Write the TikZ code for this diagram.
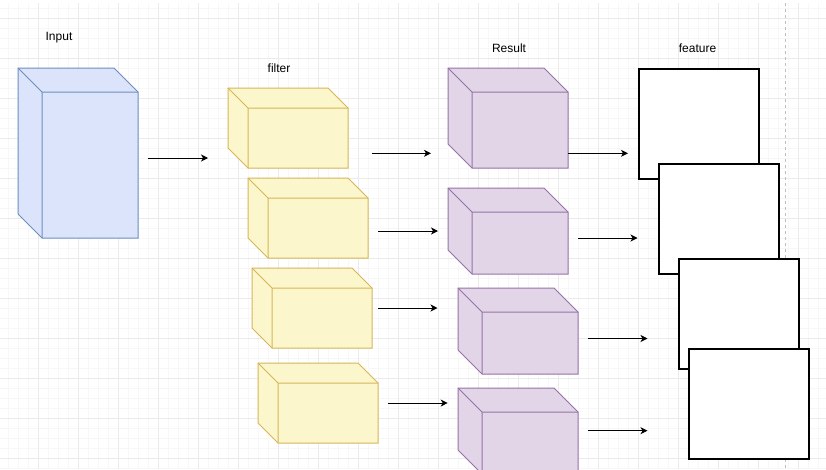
\documentclass[tikz,border=0pt]{standalone}
\usepackage{fontspec}
\setmainfont{Liberation Sans}
\usetikzlibrary{arrows.meta}
\definecolor{bluefill}{HTML}{DCE4FC}
\definecolor{bluestroke}{HTML}{6C8EBF}
\definecolor{yelfill}{HTML}{FCF6CD}
\definecolor{yelstroke}{HTML}{D6B656}
\definecolor{purfill}{HTML}{E1D5E7}
\definecolor{purstroke}{HTML}{9673A6}
\definecolor{gridmajor}{HTML}{EBEBEB}
\definecolor{gridminor}{HTML}{F7F7F7}
\tikzset{
  bluecube/.style={fill=bluefill, draw=bluestroke},
  yelcube/.style={fill=yelfill, draw=yelstroke},
  purcube/.style={fill=purfill, draw=purstroke},
  featbox/.style={draw=black, fill=white, line width=2pt, inner sep=0pt,
    minimum width=120pt, minimum height=110pt, anchor=north west},
  lbl/.style={font=\fontsize{12}{14}\selectfont, inner sep=0pt},
  conn/.style={line width=1pt, -{Stealth[length=7pt,width=7pt,inset=2pt]}},
}
% #1 name, #2 x, #3 y, #4 w, #5 h, #6 depth, #7 style
\newcommand{\drawcube}[7]{%
  \filldraw[#7, line width=1pt, line join=miter]
    (#2,#3) -- ++(#4-#6,0) -- ++(#6,#6) -- ++(0,#5-#6) -- ++(-#4+#6,0) -- ++(-#6,-#6) -- cycle;
  \draw[#7, fill=none, line width=1pt]
    (#2,#3) -- ++(#6,#6) -- ++(#4-#6,0)
    (#2+#6,#3+#6) -- ++(0,#5-#6);
  \node[inner sep=0pt, minimum width=#4pt, minimum height=#5pt, anchor=north west] (#1) at (#2,#3) {};
}
\begin{document}
\begin{tikzpicture}[x=1pt,y=-1pt]
\useasboundingbox (0,0) rectangle (826,469);
\clip (0,0) rectangle (826,469);
\fill[white] (0,0) rectangle (826,469);
% grid
\foreach \x in {8,18,...,826} \draw[gridminor, line width=0.7pt] (\x,3) -- (\x,469);
\foreach \y in {8,18,...,469} \draw[gridminor, line width=0.7pt] (0,\y) -- (826,\y);
\foreach \x in {38,78,...,826} \draw[gridmajor, line width=0.7pt] (\x,3) -- (\x,469);
\foreach \y in {18,58,...,469} \draw[gridmajor, line width=0.7pt] (0,\y) -- (826,\y);
\draw[gray!50, dashed, line width=0.7pt] (785.7,3) -- (785.7,469);

% labels
\node[lbl] (tin) at (59,38) {Input};
\node[lbl] (tfi) at (279,68) {filter};
\node[lbl] (tre) at (509,48) {Result};
\node[lbl] (tfe) at (697.5,48) {feature};

% cubes
\drawcube{input}{18}{68}{120}{170}{24}{bluecube}
\drawcube{filA}{228}{88}{120}{80}{20}{yelcube}
\drawcube{filB}{248}{178}{120}{80}{20}{yelcube}
\drawcube{filC}{252}{268}{120}{80}{20}{yelcube}
\drawcube{filD}{258}{363}{120}{80}{20}{yelcube}
\drawcube{resA}{448}{68}{120}{100}{24}{purcube}
\drawcube{resB}{448}{188}{120}{86}{24}{purcube}
\drawcube{resC}{458}{288}{120}{86}{24}{purcube}
\drawcube{resD}{458}{388}{120}{86}{24}{purcube}

% feature maps
\node[featbox] (feaA) at (638,68) {};
\node[featbox] (feaB) at (658,163) {};
\node[featbox] (feaC) at (678,258) {};
\node[featbox] (feaD) at (688,348) {};

% arrow end points
\coordinate (a0s) at (148,158);  \coordinate (a0e) at (208,158);
\coordinate (a1s) at (372,153.3); \coordinate (a1e) at (431,153.3);
\coordinate (b1s) at (568,153.3); \coordinate (b1e) at (628,153.3);
\coordinate (a2s) at (378.3,231); \coordinate (a2e) at (438,231);
\coordinate (b2s) at (578.3,238); \coordinate (b2e) at (637.5,238);
\coordinate (a3s) at (378.3,308); \coordinate (a3e) at (437.5,308);
\coordinate (b3s) at (588,338.5); \coordinate (b3e) at (647.5,338.5);
\coordinate (a4s) at (388.3,403); \coordinate (a4e) at (447.7,403);
\coordinate (b4s) at (588,430.7); \coordinate (b4e) at (647.5,430.7);

\foreach \p in {a0,a1,b1,a2,b2,a3,b3,a4,b4}
  \draw[conn] (\p s) -- (\p e);
\end{tikzpicture}
\end{document}
